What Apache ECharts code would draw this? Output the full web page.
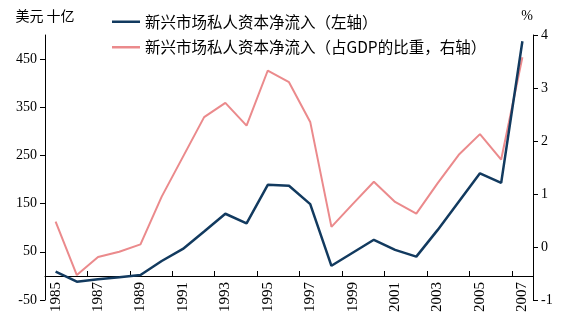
<!DOCTYPE html>
<html>
<head>
<meta charset="utf-8">
<script src="https://cdn.jsdelivr.net/npm/echarts@6/dist/echarts.min.js"></script>
<style>
html,body{margin:0;padding:0;background:#fff;}
#chart{width:566px;height:322px;}
</style>
</head>
<body>
<div id="chart"></div>
<script>
var years = ['1985','1986','1987','1988','1989','1990','1991','1992','1993','1994','1995','1996','1997','1998','1999','2000','2001','2002','2003','2004','2005','2006','2007'];
var flowBillion = [9, -12, -7, -3, 2, 31, 56, 92, 129, 109, 189, 187, 149, 21, 48, 75, 54, 40, 95, 154, 213, 193, 487];
var flowPctGDP = [0.48, -0.53, -0.19, -0.09, 0.05, 0.95, 1.70, 2.45, 2.72, 2.29, 3.33, 3.11, 2.36, 0.38, 0.81, 1.23, 0.85, 0.63, 1.20, 1.74, 2.13, 1.65, 3.58];
var seriesNames = ['新兴市场私人资本净流入（左轴）', '新兴市场私人资本净流入（占GDP的比重，右轴）'];
var leftAxisName = '美元 十亿';
var rightAxisName = '%';

var serif = "'Liberation Serif', 'Noto Sans CJK SC', serif";
var cjk = "'Noto Sans CJK SC', 'Liberation Serif', sans-serif";

var chart = echarts.init(document.getElementById('chart'), null, {renderer: 'canvas'});
chart.setOption({
  animation: false,
  backgroundColor: '#ffffff',
  textStyle: {fontFamily: serif, color: '#000'},
  legend: {
    orient: 'vertical',
    left: 107,
    top: 9,
    icon: 'rect',
    itemWidth: 28,
    itemHeight: 2.5,
    itemGap: 10,
    textStyle: {fontFamily: cjk, fontSize: 15.5, color: '#000'},
    data: seriesNames
  },
  grid: {left: 45, right: 33, top: 35, bottom: 22, containLabel: false, outerBoundsMode: 'none'},
  xAxis: {
    type: 'category',
    data: years,
    boundaryGap: true,
    offset: -24,
    axisLine: {onZero: false, lineStyle: {color: '#000', width: 1}},
    axisTick: {show: true, inside: true, length: 5, lineStyle: {color: '#000'}},
    axisLabel: {rotate: 90, interval: 1, fontFamily: serif, fontSize: 15, color: '#000', margin: 6},
    splitLine: {show: false}
  },
  yAxis: [{
    type: 'value',
    min: -50, max: 500, interval: 100,
    name: leftAxisName,
    nameLocation: 'end',
    nameGap: 12,
    nameTextStyle: {fontFamily: cjk, fontSize: 14, color: '#000'},
    axisLine: {show: true, lineStyle: {color: '#000'}},
    axisTick: {show: true, length: 5, lineStyle: {color: '#000'}},
    axisLabel: {fontFamily: serif, fontSize: 14, color: '#000', showMaxLabel: false, margin: 8},
    splitLine: {show: false}
  }, {
    type: 'value',
    min: -1, max: 4, interval: 1,
    name: rightAxisName,
    nameLocation: 'end',
    nameGap: 12,
    nameTextStyle: {fontFamily: serif, fontSize: 14, color: '#000', align: 'right'},
    axisLine: {show: true, lineStyle: {color: '#000'}},
    axisTick: {show: true, length: 5, lineStyle: {color: '#000'}},
    axisLabel: {fontFamily: serif, fontSize: 14, color: '#000', margin: 8},
    splitLine: {show: false}
  }],
  series: [{
    name: seriesNames[0],
    type: 'line',
    yAxisIndex: 0,
    data: flowBillion,
    symbol: 'none',
    lineStyle: {color: '#123a5f', width: 2.5},
    itemStyle: {color: '#123a5f'},
    z: 3
  }, {
    name: seriesNames[1],
    type: 'line',
    yAxisIndex: 1,
    data: flowPctGDP,
    symbol: 'none',
    lineStyle: {color: '#eb8a8c', width: 2},
    itemStyle: {color: '#eb8a8c'},
    z: 2
  }]
});
</script>
</body>
</html>
